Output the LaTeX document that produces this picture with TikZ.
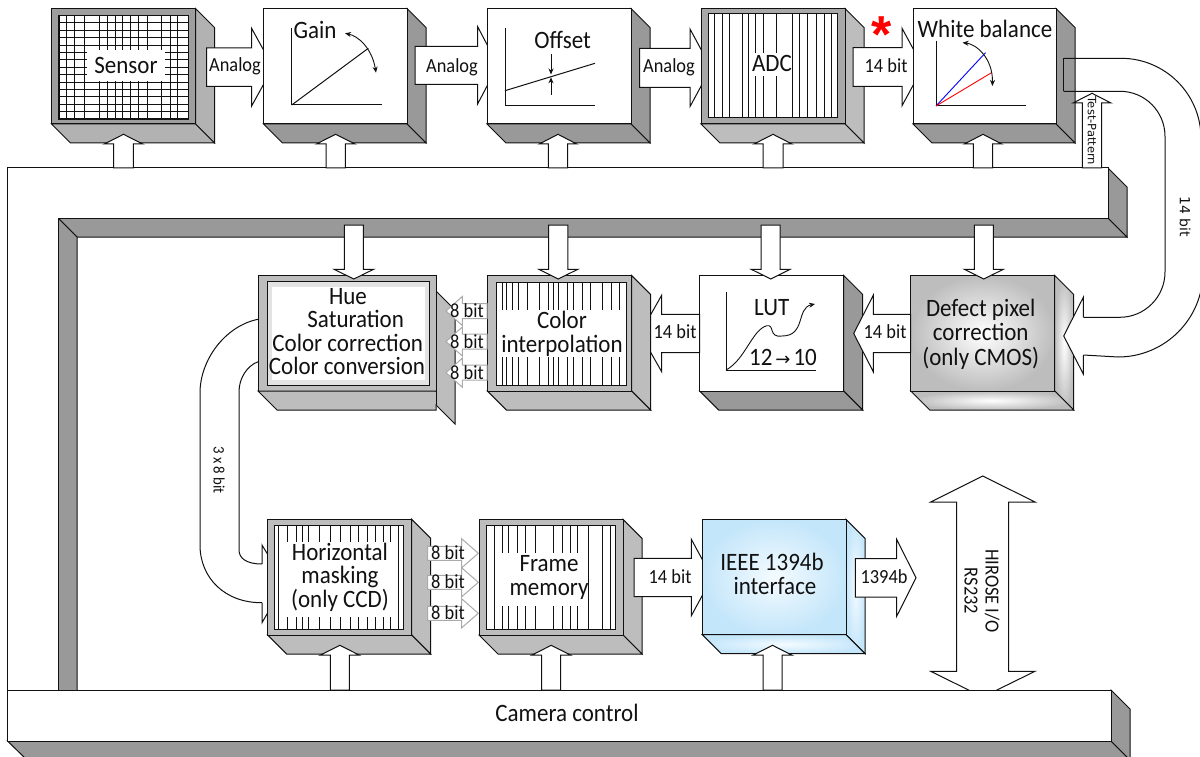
\documentclass[tikz,border=0pt]{standalone}
\usepackage{fontspec}
\setmainfont[FakeStretch=0.92]{Carlito}
\newfontfamily\djv{DejaVu Sans}
\newfontfamily\lib{Liberation Sans}
\usetikzlibrary{arrows.meta}
\definecolor{gA}{HTML}{999999}
\definecolor{gB}{HTML}{B2B2B2}
\definecolor{gC}{HTML}{BDBDBD}
\definecolor{gD}{HTML}{A8A8A8}
\definecolor{gE}{HTML}{AAAAAA}
\definecolor{gS}{HTML}{9E9E9E}
\definecolor{ink}{HTML}{111111}
\definecolor{bluein}{HTML}{F4FBFF}
\definecolor{blueout}{HTML}{C4E6FA}
\tikzset{
  ln/.style={draw=ink,line width=1pt,line join=miter},
  whitef/.style={ln,fill=white},
  sideA/.style={ln,fill=gA},
  sideB/.style={ln,fill=gB},
  sideC/.style={ln,fill=gC},
  sideD/.style={ln,inner color=white,outer color=gC},
  sideE/.style={ln,inner color=bluein,outer color=blueout},
  faceW/.style={ln,fill=white},
  faceB/.style={ln,fill=gS},
  faceC/.style={ln,fill=gC},
  faceD/.style={ln,fill=gD},
  faceDef/.style={ln,inner color=white,outer color=gC},
  faceIE/.style={ln,inner color=bluein,outer color=blueout},
  bigt/.style={inner sep=0pt,text=ink,text height=16pt,text depth=0pt,font=\fontsize{25}{25}\selectfont},
  midt/.style={inner sep=0pt,text=ink,text height=13pt,text depth=0pt,font=\fontsize{20}{20}\selectfont},
  patch/.style={fill=white,draw=none},
  thin8/.style={draw=gE,line width=1pt,fill=white},
  gl/.style={draw=ink,line width=.8pt},
  curvetip/.style={draw=ink,line width=.9pt,{Stealth[length=6pt,width=5pt]}-{Stealth[length=6pt,width=5pt]}},
  onetip/.style={draw=ink,line width=.9pt,-{Stealth[length=6pt,width=5pt]}}
}
% block: name x0 y0 x1 y1 dx dy face side
\newcommand{\blk}[9]{%
  \path[#9] (#4,#3)--({#4+#6},{#3+#7})--({#4+#6},{#5+#7})--(#4,#5)--cycle;
  \path[#9] (#2,#5)--(#4,#5)--({#4+#6},{#5+#7})--({#2+#6},{#5+#7})--cycle;
  \pgfmathsetmacro\blkw{#4-#2}\pgfmathsetmacro\blkh{#5-#3}
  \node[#8,rectangle,inner sep=0pt,outer sep=0pt,anchor=north west,minimum width=\blkw pt,minimum height=\blkh pt] (#1) at (#2,#3) {};
}
% horizontal block arrow: x0 xbase xtip cy hs hh style
\newcommand{\harr}[7]{%
  \path[#7] (#1,{#4-#5})--(#2,{#4-#5})--(#2,{#4-#6})--(#3,#4)--(#2,{#4+#6})--(#2,{#4+#5})--(#1,{#4+#5})--cycle;}
% vertical block arrow: y0 ybase ytip cx hs hh style
\newcommand{\varr}[7]{%
  \path[#7] ({#4-#5},#1)--({#4-#5},#2)--({#4-#6},#2)--(#4,#3)--({#4+#6},#2)--({#4+#5},#2)--({#4+#5},#1)--cycle;}
\begin{document}
\begin{tikzpicture}[x=1pt,y=-1pt]
\useasboundingbox (0,0) rectangle (1200,757);
\clip (0,0) rectangle (1200,757);
\fill[white] (0,0) rectangle (1200,757);

% bottom-bar and HIROSE double arrow
\coordinate (hiroT) at (982.7,476);
\coordinate (hiroB) at (982.7,697);
\path[whitef] (hiroT)--(1035,502)--(1008.7,502)--(1008.7,671.3)--(1035,671.3)--(hiroB)--(930.7,671.3)--(956.7,671.3)--(956.7,502)--(930.7,502)--cycle;
\node[inner sep=0pt,text=ink,rotate=-90,align=center,font=\fontsize{20}{21}\selectfont] (hirose) at (982,591) {HIROSE I/O\\RS232};

% top bus
\path[sideA] (58,218)--(1108,218)--(1127,237)--(77,237)--cycle;
\path[sideA] (58,218)--(77,237)--(77,692)--(58,692)--cycle;
\path[sideA] (1108,168)--(1127,187)--(1127,237)--(1108,218)--cycle;
\path[whitef] (7.5,168)--(1108,168)--(1108,218)--(58,218)--(58,690)--(7.5,690)--cycle;
\coordinate (busTop) at (7.5,168);

% top row
\blk{sensor}{51.5}{8.5}{195.5}{124}{19}{19}{faceB}{sideB}
\path[whitef,line width=.8pt] (58.5,15.5) rectangle (188.5,119);
\foreach \x in {59,66.7,74,84.3,99,107.3,115,122.3,130.7,138.3,147.7,161.7,170,177.7,188}{\draw[gl,line width=1pt] (\x,15.5)--(\x,119);}
\foreach \i in {0,...,14}{\draw[gl,line width=1pt] (58.5,{15.5+\i*7.39})--(188.5,{15.5+\i*7.39});}
\draw[gl,line width=1.6pt] (58.5,15.5) rectangle (188.5,119);
\path[patch] (87,50) rectangle (165,81);
\node[bigt] (tsensor) at (126,66) {Sensor};
\varr{168}{144}{134.3}{123.5}{9.8}{19.2}{whitef}
\harr{206.7}{251.7}{273}{67.2}{19.2}{38.7}{whitef}
\node[midt] (tan1) at (235,65) {Analog};

\blk{gain}{263.5}{8.5}{407}{124}{19}{19}{faceW}{sideA}
\draw[ln] (291.7,28.3)--(291.7,105)--(381.7,105);
\coordinate (gainEnd) at (368.3,48.3);
\draw[ln] (291.7,105)--(gainEnd);
\draw[curvetip] (345,33.3) .. controls (358,36) and (372,48) .. (376,72.7);
\node[bigt] (tgain) at (315,31) {Gain};
\varr{168}{144}{134.3}{335.7}{9.6}{19.3}{whitef}
\harr{415}{477.7}{498}{65.3}{19}{38.5}{whitef}
\node[midt] (tan2) at (452,66) {Analog};

\blk{offset}{487}{8.5}{631}{124}{19}{19}{faceW}{sideA}
\draw[ln] (505,28)--(505,106)--(595,106);
\draw[ln] (505,90.7)--(595,63.3);
\draw[onetip] (551,54.3)--(551,74.5);
\draw[onetip] (551,94.7)--(551,77.3);
\node[bigt] (toffset) at (562.6,41) {Offset};
\varr{168}{144}{134.3}{558}{9.6}{18.7}{whitef}
\harr{639.6}{690}{711}{67.8}{19.5}{38.8}{whitef}
\node[midt] (tan3) at (669,66) {Analog};

\blk{adc}{701}{8.5}{845}{124}{19}{19}{faceD}{sideC}
\path[whitef] (708,13.5) rectangle (837,117.5);
\foreach \x in {714,722,729,742,748,755,763,776,792,799,807,816,824,831}{\draw[gl] (\x,13.5)--(\x,117.5);}
\path[patch] (752,53) rectangle (792,76);
\node[bigt] (tadc) at (772,64) {ADC};
\varr{168}{144}{134.3}{773}{10}{19}{whitef}
\harr{853}{902}{923}{67}{19.3}{38.8}{whitef}
\node[midt] (t14a) at (886,66.5) {14 bit};
\node[inner sep=0pt,text=red,font=\lib\bfseries\fontsize{52}{52}\selectfont] (star) at (882,34.5) {*};

\blk{wb}{913}{8.5}{1056}{124}{19}{19}{faceW}{sideA}
\draw[ln] (936,40.7)--(936,106)--(1026,106);
\draw[blue,line width=.9pt] (936,106)--(985.5,52.7);
\draw[red,line width=.9pt] (936,106)--(991.5,72.7);
\draw[curvetip] (962.5,42.7) .. controls (976,44) and (993,58) .. (992.4,86);
\node[bigt] (twb) at (985,30) {White balance};
\varr{168}{144}{134.3}{983}{9.6}{18.7}{whitef}

% test pattern arrow
\varr{168}{103}{93.3}{1092}{9.6}{19}{whitef}
\node[inner sep=0pt,text=ink,rotate=-90,font=\djv\fontsize{11.5}{12}\selectfont] (ttest) at (1092,131) {Test-Pattern};

% second row
\blk{lut}{699.7}{275.5}{843.7}{391}{19}{19}{faceW}{sideA}
\draw[ln] (726,292.3)--(726,370)--(815.7,370);
\draw[onetip] (726,370) .. controls (745,360) and (752,330) .. (766.7,325.7) .. controls (775,324) and (768,338) .. (782,336) .. controls (806,336) and (796,308) .. (815,304);
\node[bigt] (tlut) at (771.7,307.7) {LUT};
\node[bigt] (t1210) at (783,357.7) {12{\djv\fontsize{18}{18}\selectfont\,→\,}10};
\varr{225}{269.3}{279}{770.7}{9.5}{19.5}{whitef}
\harr{699.7}{661.7}{640}{333.5}{19.2}{38.3}{whitef}

\blk{color}{487.3}{275.5}{631.7}{391}{19}{19}{faceC}{sideC}
\path[whitef] (496.7,282) rectangle (626,385);
\foreach \x in {502,506,512,518,527,539,548,553,558,567,573,582,590,602,611,619}{\draw[gl] (\x,282)--(\x,385);}
\path[patch] (497.2,310) rectangle (625.5,357);
\node[bigt] (tcolor) at (562,320) {Color};
\node[bigt] (tinterp) at (562,344) {interpolation};
\varr{225}{269.3}{279}{558.3}{9.6}{19.5}{whitef}

% hue block
\path[sideC] (436,291)--(455,310)--(455,424)--(436,405)--cycle;
\blk{hue}{258}{275.5}{436}{391}{0}{0}{faceC}{sideC}
\path[ln,fill=gC] (258,391)--(436,391)--(436,410)--(277,410)--cycle;
\path[ln,draw=none,fill=gC] (436,392)--(436,404)--(429,404)--(429,392)--cycle;
\path[whitef,fill=gray!22] (267.3,281.7) rectangle (429.3,385.3);
\path[patch] (271.5,287) rectangle (425,380);
\draw[ln] (436,291)--(436,405);
\node[bigt] (th1) at (348,296.5) {Hue};
\node[bigt] (th2) at (355.7,319.5) {Saturation};
\node[bigt] (th3) at (347.7,343) {Color correction};
\node[bigt] (th4) at (347,366.5) {Color conversion};
\varr{225}{269.3}{279}{353.8}{9.5}{19.8}{whitef}

% 8 bit arrows, hue <- color
\foreach \c/\n in {311/a,341.5/b,372.7/c}{
  \harr{487}{462.3}{446}{\c}{7.5}{14.5}{thin8}
  \node[midt] (e\n) at (467,\c) {8 bit};
}
% defect block
\blk{defect}{910.7}{275.5}{1054.7}{391}{19}{19}{faceDef}{sideD}
\node[bigt] (td1) at (980.7,308) {Defect pixel};
\node[bigt] (td2) at (980.7,332.7) {correction};
\node[bigt] (td3) at (980.7,357.7) {(only CMOS)};
\varr{225}{269.3}{279}{983.8}{9.5}{19.5}{whitef}
\harr{910.7}{873.3}{853.7}{333.5}{19.2}{38.3}{whitef}
\node[midt] (t14c) at (885,332) {14 bit};
\node[midt] (t14b) at (675,332) {14 bit};

% 14 bit curved band
\coordinate (bandA) at (1063.5,58.3);
\coordinate (bandB) at (1063.5,91.3);
\coordinate (bandC) at (1083.3,355);
\coordinate (bandD) at (1083.3,317.3);
\coordinate (bandTip) at (1063.7,336);
\draw[ln] (bandA)--(bandB);
\draw[ln] (bandA)--(1121,58.3) arc[start angle=-90,end angle=0,radius=80] -- (1203,272) arc[start angle=0,end angle=90,radius=85] -- (bandC);
\draw[ln] (bandB)--(1120,91.3) arc[start angle=-90,end angle=0,radius=45] -- (1165,272) arc[start angle=0,end angle=90,radius=45.3] -- (bandD);
\fill[white] (bandC)--(1083.3,374)--(bandTip)--(1083.3,297.3)--(bandD)--cycle;
\draw[ln] (bandC)--(1083.3,374)--(bandTip)--(1083.3,297.3)--(bandD);
\node[inner sep=0pt,text=ink,rotate=-90,font=\djv\fontsize{14}{14}\selectfont] (t14d) at (1185,217) {14 bit};

% 3 x 8 bit band
\coordinate (hueA) at (258,319.3);
\coordinate (hueB) at (258,361.7);
\coordinate (hmA) at (262,602.7);
\coordinate (hmB) at (262,564);
\draw[ln] (hueA) .. controls (225,326) and (200,360) .. (200,393) -- (200,545) .. controls (200,578) and (225,603) .. (hmA);
\draw[ln] (hueB) .. controls (247,366) and (239,378) .. (239,392) -- (239,550) .. controls (239,558) and (246,564) .. (hmB);
\node[inner sep=0pt,text=ink,rotate=-90,font=\fontsize{16}{16}\selectfont] (t3x8) at (219,470) {3 x 8 bit};
\fill[white] (hmB)--(262,545)--(285,583)--(262,622.7)--(hmA)--cycle;
\draw[ln] (hmB)--(262,545)--(285,583)--(262,622.7)--(hmA);

% third row
\blk{hm}{267.7}{519.3}{411.7}{635}{19}{19}{faceC}{sideC}
\path[whitef] (274,525) rectangle (403.3,629);
\foreach \x in {278.5,287,296,302,308,319,330,340,350,358,367,375,383,390,398}{\draw[gl] (\x,525)--(\x,629);}
\path[patch] (281.7,541.7) rectangle (393,616.7);
\draw[gl] (278.5,541)--(278.5,617);
\draw[gl] (398,541)--(398,617);
\node[bigt] (th1b) at (340,552.7) {Horizontal};
\node[bigt] (th2b) at (340,575.7) {masking};
\node[bigt] (th3b) at (340,599) {(only CCD)};
\varr{690}{655}{645.3}{339.8}{9.5}{19.3}{whitef}

\blk{frame}{479}{519.3}{623}{635}{19}{19}{faceC}{sideC}
\path[whitef] (486,525) rectangle (615.7,629);
\foreach \x in {494,502,508,517,525,535,553,562,570,577,588,602,610}{\draw[gl] (\x,525)--(\x,629);}
\path[patch] (498,553.3) rectangle (588,606);
\node[bigt] (tf1) at (549,563) {Frame};
\node[bigt] (tf2) at (549,587) {memory};
\varr{690}{655}{645.3}{551.2}{9.5}{19.2}{whitef}

\foreach \c/\n in {553.3/a,582.3/b,613.3/c}{
  \harr{427.7}{461.7}{478.3}{\c}{7}{14.5}{thin8}
  \node[midt] (f\n) at (448,\c) {8 bit};
}
\harr{634}{691.3}{712}{577.5}{19.2}{38.3}{whitef}
\node[midt] (t14e) at (670,577) {14 bit};
\blk{ieee}{702.3}{519.3}{846}{634.7}{19}{19}{faceIE}{sideE}
\node[bigt] (ti1) at (772,562.7) {IEEE 1394b};
\node[bigt] (ti2) at (775,586.7) {interface};
\varr{690}{655}{645.3}{772.5}{9.5}{19.2}{whitef}
\harr{855.3}{896.7}{916}{577.8}{19.2}{38.4}{whitef}
\node[midt] (t1394) at (884,577) {1394b};

% bottom bus
\path[sideA] (7.5,741)--(1111,741)--(1130,760)--(27,760)--cycle;
\path[sideA] (1111,690)--(1130,709)--(1130,760)--(1111,741)--cycle;
\node[whitef,rectangle,inner sep=0pt,outer sep=0pt,anchor=north west,minimum width=1103.5pt,minimum height=51pt] (busBot) at (7.5,690) {};
\node[bigt] (tcam) at (567,713) {Camera control};
\end{tikzpicture}
\end{document}
